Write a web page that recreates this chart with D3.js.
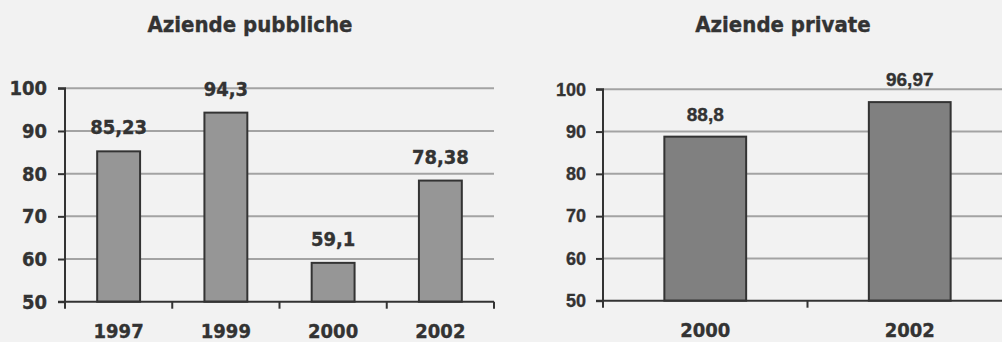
<!DOCTYPE html>
<html>
<head>
<meta charset="utf-8">
<script src="https://cdn.jsdelivr.net/npm/d3@7/dist/d3.min.js"></script>
<style>
  html, body { margin: 0; padding: 0; background: #f2f2f2; }
  svg { display: block; }
  text { stroke: #333333; stroke-width: 0.35px; }
</style>
</head>
<body>
<svg id="chart" width="1002" height="342"></svg>
<script>
// Public companies
const pubYears = ["1997", "1999", "2000", "2002"];
const pubValues = [85.23, 94.3, 59.1, 78.38];
const pubLabels = ["85,23", "94,3", "59,1", "78,38"];

// Private companies
const privYears = ["2000", "2002"];
const privValues = [88.8, 96.97];
const privLabels = ["88,8", "96,97"];

const yTicks = [50, 60, 70, 80, 90, 100];
const yDomain = [50, 100];

const svg = d3.select("#chart");
const textColor = "#333333";
const condensed = "'DejaVu Sans Condensed', 'DejaVu Sans', sans-serif";
const arial = "'Liberation Sans', Arial, sans-serif";

function panel(cfg) {
  const g = svg.append("g");
  const x = d3.scaleBand().domain(cfg.cats).range(cfg.xRange)
    .paddingInner(0.6).paddingOuter(0.3);
  const y = d3.scaleLinear().domain(yDomain).range(cfg.yRange);
  const step = x.step();
  const x0 = cfg.xRange[0], x1 = cfg.xRange[1];

  // title
  g.append("text")
    .attr("x", cfg.titleX).attr("y", 32)
    .attr("text-anchor", "middle")
    .attr("font-family", condensed).attr("font-weight", "bold")
    .attr("font-size", 22).attr("fill", textColor)
    .text(cfg.title);

  // horizontal gridlines
  g.append("g").selectAll("line")
    .data(yTicks.filter(t => t > yDomain[0]))
    .join("line")
    .attr("x1", x0).attr("x2", Math.min(x1, 1002))
    .attr("y1", d => y(d)).attr("y2", d => y(d))
    .attr("stroke", "#a3a3a3").attr("stroke-width", 2);

  // bars
  g.append("g").selectAll("rect")
    .data(cfg.cats.map((c, i) => ({ c, v: cfg.values[i] })))
    .join("rect")
    .attr("x", d => x(d.c))
    .attr("width", x.bandwidth())
    .attr("y", d => y(d.v))
    .attr("height", d => y(yDomain[0]) - y(d.v))
    .attr("fill", cfg.fill)
    .attr("stroke", "#333333").attr("stroke-width", 2);

  // value labels
  g.append("g").selectAll("text")
    .data(cfg.cats.map((c, i) => ({ c, v: cfg.values[i], t: cfg.labels[i] })))
    .join("text")
    .attr("x", d => x(d.c) + x.bandwidth() / 2)
    .attr("y", d => y(d.v) - cfg.labelGap)
    .attr("text-anchor", "middle")
    .attr("font-family", cfg.labelFont).attr("font-weight", "bold")
    .attr("font-size", cfg.labelSize).attr("fill", textColor)
    .text(d => d.t);

  // y axis
  const yAxis = d3.axisLeft(y).tickValues(yTicks).tickSize(7).tickPadding(cfg.yTickPad);
  const ya = g.append("g").attr("transform", `translate(${x0},0)`).call(yAxis);
  ya.select(".domain").attr("stroke", textColor).attr("stroke-width", 2)
    .attr("d", `M-7,${y(yDomain[1])}H0V${y(yDomain[0])}H-7`);
  ya.selectAll(".tick line").attr("stroke", textColor).attr("stroke-width", 2);
  ya.selectAll(".tick text")
    .attr("font-family", cfg.tickFont).attr("font-weight", "bold")
    .attr("font-size", cfg.tickSize).attr("fill", textColor);

  // x axis baseline with ticks at category boundaries
  const base = y(yDomain[0]);
  g.append("line")
    .attr("x1", x0).attr("x2", Math.min(x1, 1002))
    .attr("y1", base).attr("y2", base)
    .attr("stroke", textColor).attr("stroke-width", 2);
  const bounds = d3.range(cfg.cats.length + 1).map(i => x0 + i * step);
  g.append("g").selectAll("line")
    .data(bounds)
    .join("line")
    .attr("x1", d => d).attr("x2", d => d)
    .attr("y1", base).attr("y2", base + 7)
    .attr("stroke", textColor).attr("stroke-width", 2);

  // category labels
  g.append("g").selectAll("text")
    .data(cfg.cats)
    .join("text")
    .attr("x", d => x(d) + x.bandwidth() / 2)
    .attr("y", cfg.catY)
    .attr("text-anchor", "middle")
    .attr("font-family", condensed).attr("font-weight", "bold")
    .attr("font-size", 20).attr("fill", textColor)
    .text(d => d);
}

panel({
  title: "Aziende pubbliche", titleX: 250,
  cats: pubYears, values: pubValues, labels: pubLabels,
  xRange: [65, 494], yRange: [301.7, 88.3],
  fill: "#969696",
  labelFont: condensed, labelSize: 20, labelGap: 17,
  tickFont: condensed, tickSize: 20, yTickPad: 11,
  catY: 338
});

panel({
  title: "Aziende private", titleX: 783,
  cats: privYears, values: privValues, labels: privLabels,
  xRange: [603, 1012], yRange: [300.7, 89.3],
  fill: "#808080",
  labelFont: arial, labelSize: 19, labelGap: 16,
  tickFont: arial, tickSize: 18, yTickPad: 10,
  catY: 337
});
</script>
</body>
</html>
